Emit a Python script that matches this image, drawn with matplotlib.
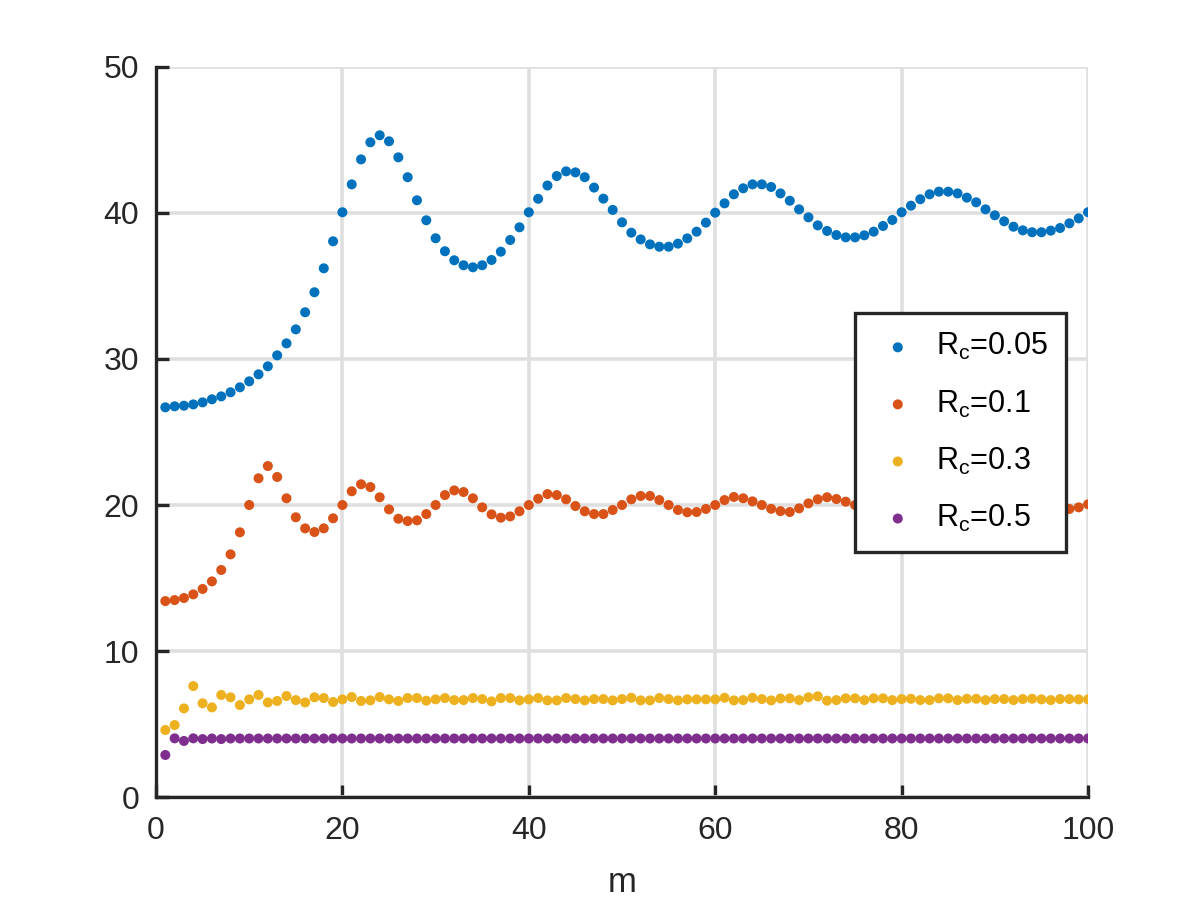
import numpy as np
import matplotlib
matplotlib.use('Agg')
import matplotlib.pyplot as plt

plt.rcParams['font.family'] = ['Liberation Sans', 'DejaVu Sans']
plt.rcParams['mathtext.default'] = 'regular'

# values, m = 1..100
m = np.arange(1, 101)

rc_005 = [26.69, 26.76, 26.80, 26.89, 27.03, 27.24, 27.44, 27.72, 28.06, 28.47,
          28.95, 29.50, 30.25, 31.07, 32.03, 33.20, 34.57, 36.21, 38.06, 40.05,
          41.96, 43.67, 44.84, 45.32, 44.91, 43.81, 42.45, 40.87, 39.50, 38.27,
          37.38, 36.76, 36.42, 36.28, 36.42, 36.78, 37.35, 38.15, 39.02, 40.05,
          40.97, 41.88, 42.53, 42.85, 42.78, 42.45, 41.74, 40.98, 40.21, 39.36,
          38.65, 38.19, 37.85, 37.69, 37.69, 37.90, 38.26, 38.72, 39.34, 40.02,
          40.66, 41.28, 41.69, 41.96, 41.96, 41.78, 41.34, 40.84, 40.25, 39.70,
          39.15, 38.77, 38.49, 38.33, 38.33, 38.47, 38.72, 39.11, 39.52, 40.05,
          40.50, 40.94, 41.28, 41.46, 41.46, 41.34, 41.05, 40.73, 40.25, 39.84,
          39.43, 39.06, 38.81, 38.68, 38.68, 38.79, 38.97, 39.29, 39.63, 40.05]

rc_01 = [13.42, 13.49, 13.63, 13.88, 14.25, 14.77, 15.55, 16.62, 18.13, 20.00,
         21.83, 22.67, 21.92, 20.46, 19.16, 18.40, 18.15, 18.40, 19.09, 20.00,
         20.94, 21.42, 21.23, 20.53, 19.70, 19.06, 18.90, 18.95, 19.38, 20.00,
         20.68, 21.00, 20.89, 20.46, 19.84, 19.36, 19.13, 19.22, 19.57, 20.00,
         20.43, 20.75, 20.68, 20.39, 19.93, 19.57, 19.38, 19.38, 19.66, 20.00,
         20.39, 20.62, 20.62, 20.34, 20.00, 19.66, 19.50, 19.52, 19.73, 20.00,
         20.34, 20.55, 20.46, 20.25, 20.00, 19.74, 19.58, 19.52, 19.77, 20.11,
         20.39, 20.53, 20.41, 20.23, 20.00, 19.78, 19.62, 19.64, 19.80, 20.05,
         20.30, 20.45, 20.40, 20.22, 20.00, 19.80, 19.64, 19.66, 19.82, 20.04,
         20.26, 20.40, 20.36, 20.20, 20.00, 19.82, 19.68, 19.73, 19.84, 20.05]

rc_03 = [4.59, 4.93, 6.07, 7.60, 6.42, 6.14, 6.99, 6.83, 6.30, 6.69,
         6.99, 6.48, 6.58, 6.92, 6.64, 6.48, 6.83, 6.78, 6.51, 6.69,
         6.85, 6.58, 6.62, 6.85, 6.69, 6.58, 6.78, 6.78, 6.60, 6.69,
         6.78, 6.64, 6.64, 6.78, 6.71, 6.55, 6.78, 6.78, 6.62, 6.69,
         6.78, 6.62, 6.62, 6.78, 6.71, 6.62, 6.71, 6.71, 6.62, 6.71,
         6.80, 6.62, 6.62, 6.78, 6.71, 6.62, 6.69, 6.69, 6.69, 6.69,
         6.80, 6.62, 6.64, 6.80, 6.71, 6.62, 6.75, 6.76, 6.64, 6.83,
         6.90, 6.60, 6.64, 6.76, 6.76, 6.64, 6.76, 6.76, 6.64, 6.71,
         6.73, 6.64, 6.64, 6.76, 6.76, 6.64, 6.73, 6.73, 6.64, 6.71,
         6.71, 6.64, 6.71, 6.73, 6.69, 6.64, 6.71, 6.71, 6.69, 6.69]

rc_05 = [2.88, 4.02, 3.84, 4.02, 3.97, 4.01, 3.97, 4.01, 4.01, 4.01] + [4.01] * 90

series = [rc_005, rc_01, rc_03, rc_05]
labels = [r'R$_{c}$=0.05', r'R$_{c}$=0.1', r'R$_{c}$=0.3', r'R$_{c}$=0.5']
colors = ['#0072BD', '#D95319', '#EDB120', '#7E2F8E']

dark = '#262626'

fig = plt.figure(figsize=(12, 9), dpi=100)
ax = fig.add_axes([0.13, 0.1144, 0.7767, 0.8112])

for y, lab, c in zip(series, labels, colors):
    ax.scatter(m, y, s=52, color=c, edgecolors='none', label=lab, zorder=3)

ax.set_xlim(0, 100)
ax.set_ylim(0, 50)
ax.set_xticks([0, 20, 40, 60, 80, 100])
ax.set_yticks([0, 10, 20, 30, 40, 50])
ax.grid(True, color='#dfdfdf', linewidth=2.6)
ax.set_axisbelow(True)

for s in ['top', 'right']:
    ax.spines[s].set_visible(False)
for s in ['left', 'bottom']:
    ax.spines[s].set_color(dark)
    ax.spines[s].set_linewidth(2.4)

ax.tick_params(direction='in', length=9, width=2.4, colors=dark,
               labelsize=23)
ax.tick_params(axis='x', pad=14)
ax.tick_params(axis='y', pad=12)
ax.set_xlabel('m', fontsize=25, color=dark, labelpad=14)

leg = ax.legend(loc='upper left', bbox_to_anchor=(855 / 1200, 1 - 313 / 900),
                bbox_transform=fig.transFigure, borderaxespad=0,
                fontsize=22, frameon=True, fancybox=False, framealpha=1,
                edgecolor=dark, handletextpad=0.45, labelspacing=0.85,
                borderpad=0.6, handlelength=1.6, scatterpoints=1)
leg.get_frame().set_linewidth(2.4)
for t in leg.get_texts():
    t.set_color('black')

fig.savefig('out.png', dpi=100)
